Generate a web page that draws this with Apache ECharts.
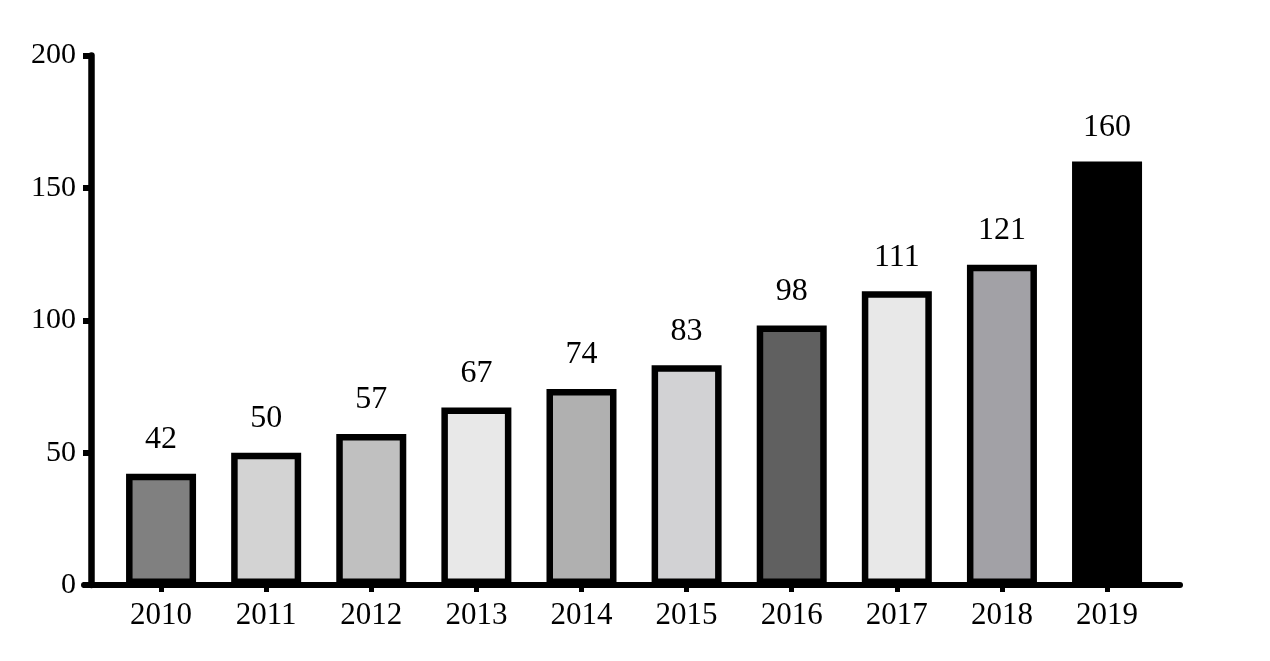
<!DOCTYPE html>
<html>
<head>
<meta charset="utf-8">
<script src="https://cdn.jsdelivr.net/npm/echarts@6/dist/echarts.min.js"></script>
<style>html,body{margin:0;padding:0;background:#fff}#c{width:1270px;height:661px}</style>
</head>
<body>
<div id="c"></div>
<script>
const years = ['2010','2011','2012','2013','2014','2015','2016','2017','2018','2019'];
const values = [42, 50, 57, 67, 74, 83, 98, 111, 121, 160];
const barColors = ['#808080','#d3d3d3','#c0c0c0','#e8e8e8','#b0b0b0','#d2d2d4','#606060','#e8e8e8','#a2a1a6','#000000'];
const yTicks = [0, 50, 100, 150, 200];

const FONT = 'Liberation Serif, Times New Roman, serif';
const chart = echarts.init(document.getElementById('c'));
chart.setOption({
  animation: false,
  backgroundColor: '#fff',
  grid: [
    {left: 108.5, right: 110.4, top: 55.5, bottom: 76},
    {left: 84, right: 90, top: 55.5, bottom: 76}
  ],
  xAxis: [
    {
      type: 'category', gridIndex: 0, data: years,
      axisLine: {show: true, lineStyle: {color: '#000', width: 6}},
      axisTick: {show: true, alignWithLabel: true, length: 7, lineStyle: {color: '#000', width: 5}},
      axisLabel: {color: '#000', fontFamily: FONT, fontSize: 31, margin: 15},
      splitLine: {show: false}
    },
    {
      type: 'value', gridIndex: 1, min: 0, max: 1,
      axisLine: {show: true, onZero: false, lineStyle: {color: '#000', width: 6}},
      axisTick: {show: false}, axisLabel: {show: false}, splitLine: {show: false}
    }
  ],
  yAxis: [
    {
      type: 'value', gridIndex: 0, min: yTicks[0], max: yTicks[yTicks.length-1], interval: 50,
      show: false
    },
    {
      type: 'value', gridIndex: 1, min: yTicks[0], max: yTicks[yTicks.length-1], interval: 50,
      offset: -7,
      axisLine: {show: true, lineStyle: {color: '#000', width: 6.5}},
      axisTick: {show: true, length: 8, lineStyle: {color: '#000', width: 6}},
      axisLabel: {color: '#000', fontFamily: FONT, fontSize: 30, margin: 15},
      splitLine: {show: false}
    }
  ],
  series: [{
    type: 'bar',
    xAxisIndex: 0, yAxisIndex: 0,
    barWidth: 70,
    data: values.map((v, i) => ({
      value: v,
      itemStyle: {color: barColors[i], borderColor: '#000', borderWidth: 6.5}
    })),
    label: {
      show: true, position: 'top', distance: 18,
      color: '#000', fontFamily: FONT, fontSize: 32
    }
  }]
});
</script>
</body>
</html>
